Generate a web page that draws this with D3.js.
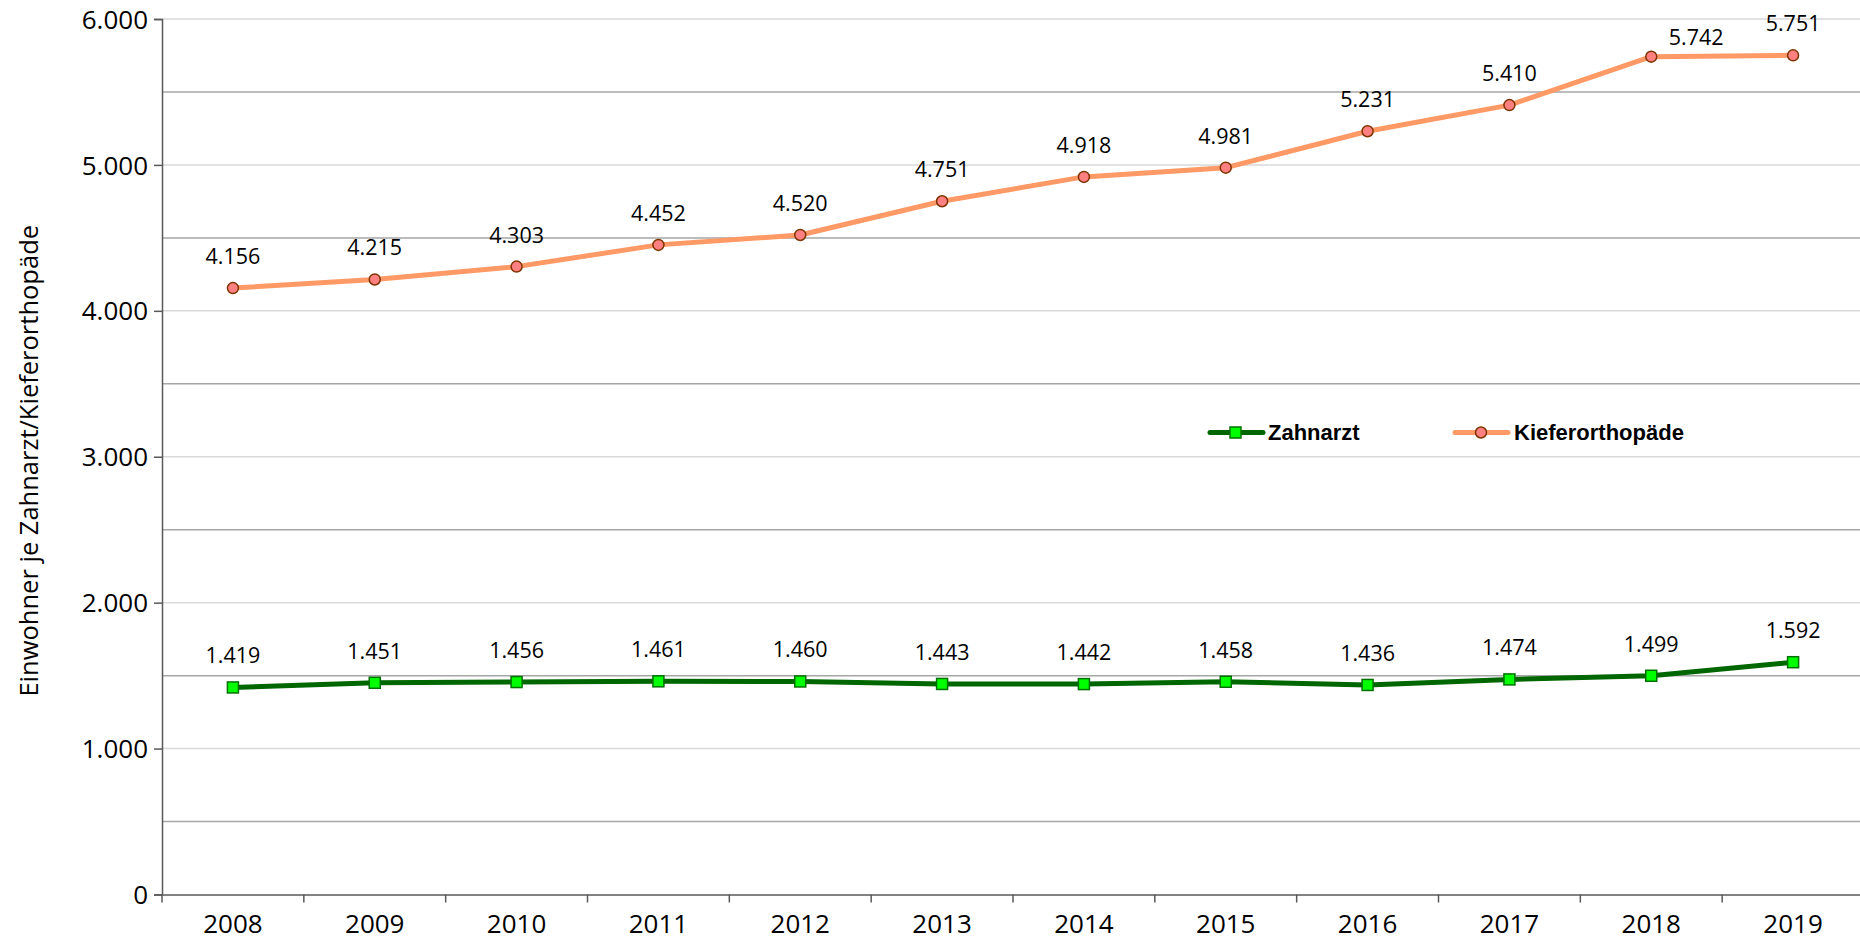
<!DOCTYPE html>
<html>
<head>
<meta charset="utf-8">
<script src="https://cdn.jsdelivr.net/npm/d3@7"></script>
<style>
  body { margin: 0; background: #fff; }
  svg text { font-family: "Open Sans", sans-serif; fill: #000; }
</style>
</head>
<body>
<div id="chart"></div>
<script>
// dati
const years = ["2008","2009","2010","2011","2012","2013","2014","2015","2016","2017","2018","2019"];
const zahnarzt = [1419, 1451, 1456, 1461, 1460, 1443, 1442, 1458, 1436, 1474, 1499, 1592];
const kiefer = [4156, 4215, 4303, 4452, 4520, 4751, 4918, 4981, 5231, 5410, 5742, 5751];
const yTicks = [0, 1000, 2000, 3000, 4000, 5000, 6000];
const yMinor = [500, 1500, 2500, 3500, 4500, 5500];

const W = 1860, H = 944;
const mLeft = 162, mRight = 1864, mTop = 19, mBottom = 894.5;

const fmt = d3.format(",");
const de = v => fmt(v).replace(/,/g, ".");

const svg = d3.select("#chart").append("svg")
  .attr("width", W).attr("height", H);

const x = d3.scaleBand().domain(years).range([mLeft, mRight]);
const y = d3.scaleLinear().domain([0, 6000]).range([mBottom, mTop]);

// griglia
svg.append("g").selectAll("line").data(yTicks.slice(1)).join("line")
  .attr("x1", mLeft).attr("x2", W)
  .attr("y1", d => y(d)).attr("y2", d => y(d))
  .attr("stroke", "#d9d9d9").attr("stroke-width", 1.5);
svg.append("g").selectAll("line").data(yMinor).join("line")
  .attr("x1", mLeft).attr("x2", W)
  .attr("y1", d => y(d)).attr("y2", d => y(d))
  .attr("stroke", "#a6a6a6").attr("stroke-width", 1.5);

// asse Y
const yAxis = svg.append("g")
  .attr("transform", `translate(${mLeft},0)`)
  .call(d3.axisLeft(y).tickValues(yTicks).tickFormat(de).tickSize(8).tickPadding(6));
yAxis.select(".domain").attr("stroke", "#595959").attr("stroke-width", 1.5);
yAxis.selectAll(".tick line").attr("stroke", "#595959").attr("stroke-width", 1.5);
yAxis.selectAll("text").style("font-size", "26px").attr("dy", "0.35em");

// asse X
const xAxis = svg.append("g")
  .attr("transform", `translate(0,${mBottom})`)
  .call(d3.axisBottom(x).tickSize(0).tickPadding(20));
xAxis.select(".domain").attr("stroke", "#595959").attr("stroke-width", 1.5);
xAxis.selectAll("text").style("font-size", "26px");
// tacche tra le categorie
svg.append("g").selectAll("line").data(years).join("line")
  .attr("x1", d => x(d)).attr("x2", d => x(d))
  .attr("y1", mBottom).attr("y2", mBottom + 8)
  .attr("stroke", "#595959").attr("stroke-width", 1.5);

// titolo asse
svg.append("text")
  .attr("transform", `translate(29,${(mTop + mBottom) / 2 + 4}) rotate(-90)`)
  .attr("text-anchor", "middle")
  .attr("dy", "0.35em")
  .style("font-size", "25.5px")
  .text("Einwohner je Zahnarzt/Kieferorthopäde");

const cx = i => x(years[i]) + x.bandwidth() / 2;
const line = d3.line().x((d, i) => cx(i)).y(d => y(d));

// Kieferorthopäde
svg.append("path").datum(kiefer)
  .attr("d", line).attr("fill", "none")
  .attr("stroke", "#ff9966").attr("stroke-width", 5).attr("stroke-linejoin", "round");
svg.append("g").selectAll("circle").data(kiefer).join("circle")
  .attr("cx", (d, i) => cx(i)).attr("cy", d => y(d)).attr("r", 5.5)
  .attr("fill", "#ff8080").attr("stroke", "#7f3300").attr("stroke-width", 1.5);

// Zahnarzt
svg.append("path").datum(zahnarzt)
  .attr("d", line).attr("fill", "none")
  .attr("stroke", "#006600").attr("stroke-width", 5).attr("stroke-linejoin", "round");
svg.append("g").selectAll("rect").data(zahnarzt).join("rect")
  .attr("x", (d, i) => cx(i) - 5.5).attr("y", d => y(d) - 5.5)
  .attr("width", 11).attr("height", 11)
  .attr("fill", "#00ff00").attr("stroke", "#007000").attr("stroke-width", 1.5);

// etichette dati (2018 Kiefer spostata a mano come nell'originale)
const shift = { "kiefer-10": [45, 12] };
function labels(vals, key) {
  svg.append("g").selectAll("text").data(vals).join("text")
    .attr("x", (d, i) => cx(i) + (shift[key + "-" + i] ? shift[key + "-" + i][0] : 0))
    .attr("y", (d, i) => y(d) - (shift[key + "-" + i] ? shift[key + "-" + i][1] : 24))
    .attr("text-anchor", "middle")
    .style("font-size", "21.5px")
    .text(d => de(d));
}
labels(kiefer, "kiefer");
labels(zahnarzt, "zahn");

// legenda
const lg = svg.append("g");
lg.append("line").attr("x1", 1210).attr("x2", 1263).attr("y1", 432.5).attr("y2", 432.5)
  .attr("stroke", "#006600").attr("stroke-width", 5).attr("stroke-linecap", "round");
lg.append("rect").attr("x", 1230).attr("y", 427).attr("width", 11).attr("height", 11)
  .attr("fill", "#00ff00").attr("stroke", "#007000").attr("stroke-width", 1.5);
lg.append("text").attr("x", 1268).attr("y", 432.5).attr("dy", "0.35em")
  .style("font-family", "'Liberation Sans', Arial, sans-serif")
  .style("font-size", "22px").style("font-weight", "bold").text("Zahnarzt");
lg.append("line").attr("x1", 1455).attr("x2", 1508).attr("y1", 432.5).attr("y2", 432.5)
  .attr("stroke", "#ff9966").attr("stroke-width", 5).attr("stroke-linecap", "round");
lg.append("circle").attr("cx", 1481).attr("cy", 432.5).attr("r", 5.5)
  .attr("fill", "#ff8080").attr("stroke", "#7f3300").attr("stroke-width", 1.5);
lg.append("text").attr("x", 1514).attr("y", 432.5).attr("dy", "0.35em")
  .style("font-family", "'Liberation Sans', Arial, sans-serif")
  .style("font-size", "22px").style("font-weight", "bold").text("Kieferorthopäde");
</script>
</body>
</html>
